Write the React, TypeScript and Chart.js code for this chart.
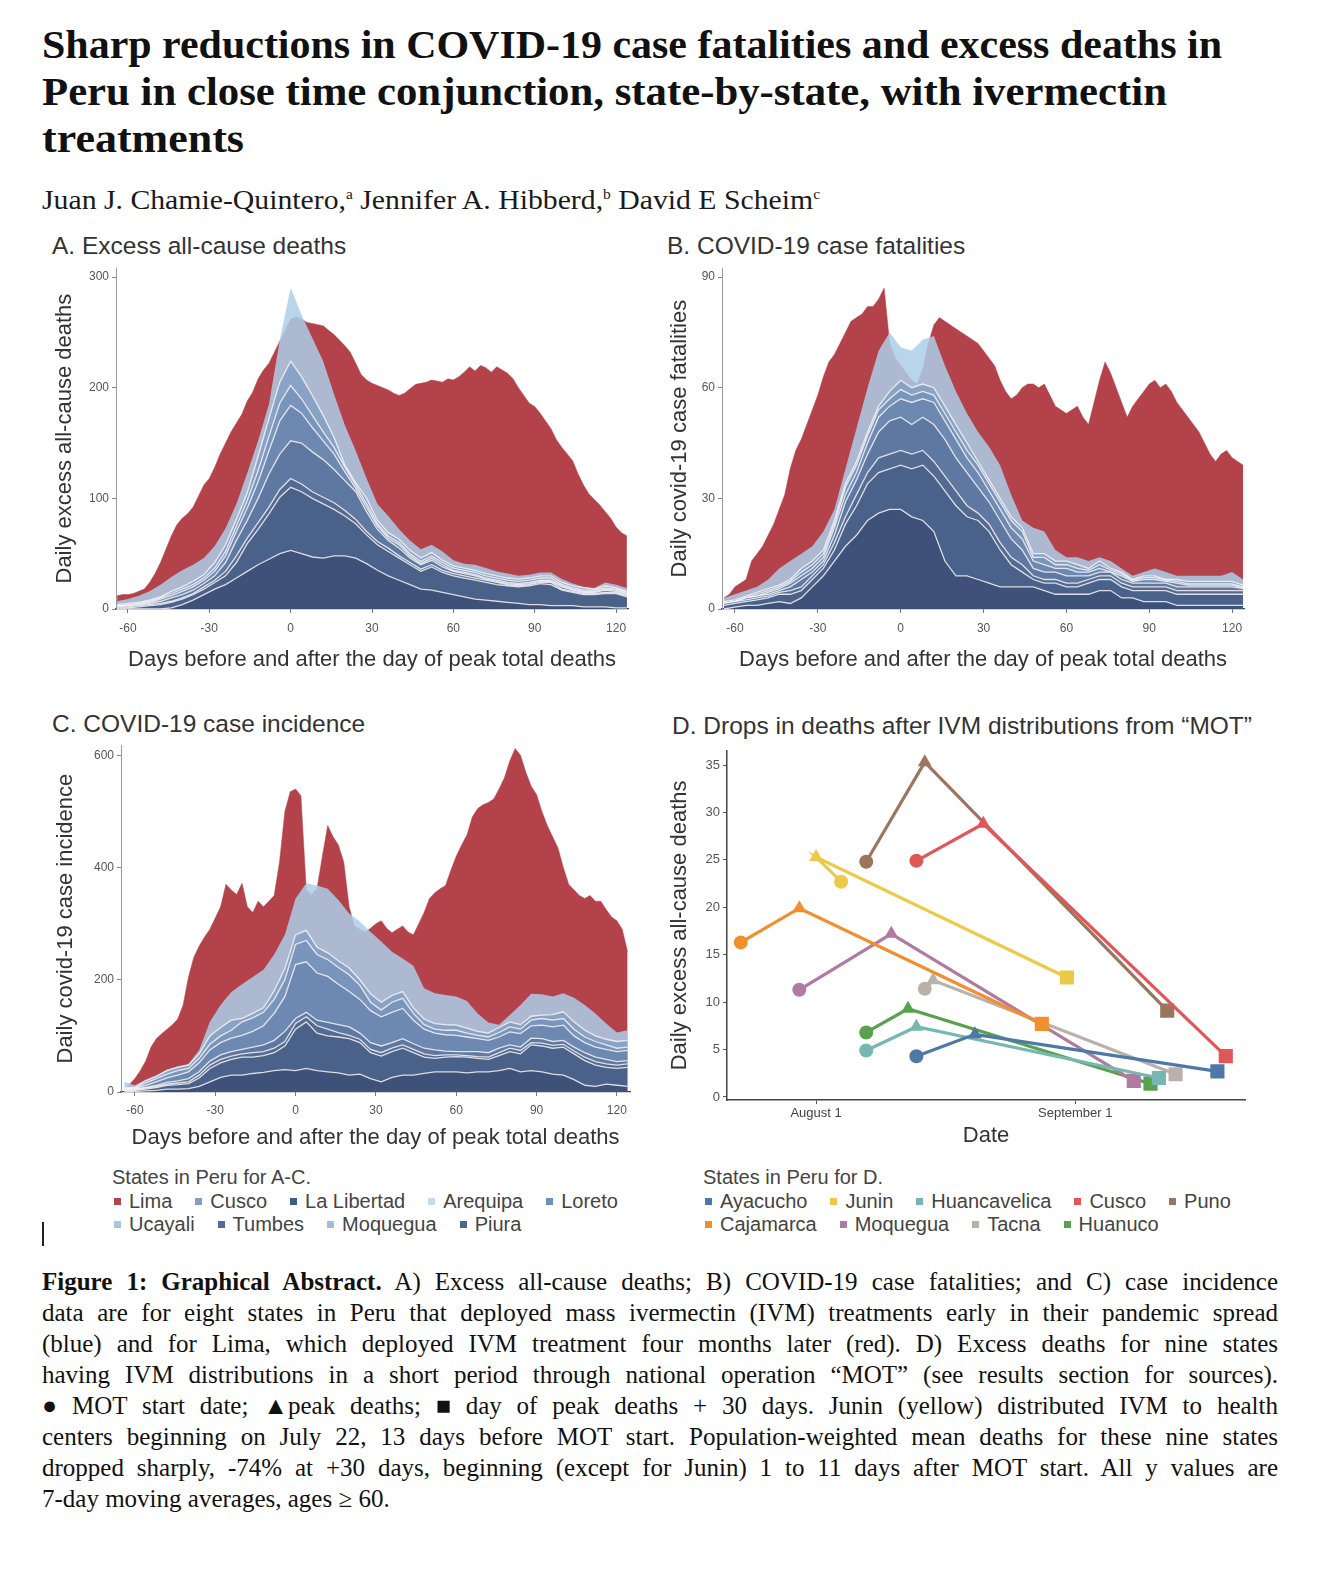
import React, { useEffect, useLayoutEffect, useRef } from 'react';
import { Chart, registerables } from 'chart.js';

Chart.register(...registerables);

const SANS = '"Liberation Sans", Arial, Helvetica, sans-serif';
const SERIF = '"Liberation Serif", "Times New Roman", serif';

// ---------- Panels A-C: shared categories ----------
const blueDays = [-64, -60, -56, -52, -48, -44, -40, -36, -32, -28, -24, -20, -16, -12, -8, -4, 0, 4, 8, 12, 16, 20, 24, 28, 32, 36, 40, 44, 48, 52, 56, 60, 64, 68, 72, 76, 80, 84, 88, 92, 96, 100, 104, 108, 112, 116, 120, 124];
const limaDays = [-64, -62, -60, -58, -56, -54, -52, -50, -48, -46, -44, -42, -40, -38, -36, -34, -32, -30, -28, -26, -24, -22, -20, -18, -16, -14, -12, -10, -8, -6, -4, -2, 0, 2, 4, 6, 8, 10, 12, 14, 16, 18, 20, 22, 24, 26, 28, 30, 32, 34, 36, 38, 40, 42, 44, 46, 48, 50, 52, 54, 56, 58, 60, 62, 64, 66, 68, 70, 72, 74, 76, 78, 80, 82, 84, 86, 88, 90, 92, 94, 96, 98, 100, 102, 104, 106, 108, 110, 112, 114, 116, 118, 120, 122, 124];
const dayTicks = [-60, -30, 0, 30, 60, 90, 120];

const statesAC = ['Lima', 'Cusco', 'La Libertad', 'Arequipa', 'Loreto', 'Ucayali', 'Tumbes', 'Moquegua', 'Piura'];
const stackOrderAC = ['La Libertad', 'Piura', 'Tumbes', 'Loreto', 'Cusco', 'Moquegua', 'Ucayali', 'Arequipa'];

// ---------- A. Excess all-cause deaths ----------
const aLima = [12, 13, 13, 14, 16, 18, 24, 32, 42, 54, 66, 76, 82, 86, 92, 102, 112, 118, 128, 140, 150, 160, 168, 176, 188, 196, 208, 216, 222, 232, 242, 252, 262, 264, 262, 259, 258, 257, 256, 252, 248, 243, 238, 232, 222, 212, 207, 204, 202, 200, 198, 195, 193, 195, 199, 203, 204, 205, 207, 206, 205, 208, 207, 210, 214, 219, 215, 220, 218, 214, 219, 216, 213, 208, 200, 193, 186, 183, 177, 170, 163, 153, 146, 140, 134, 122, 112, 104, 99, 94, 88, 82, 74, 69, 66];
const aLaLibertad = [0, 0, 0, 0, 0, 1, 4, 8, 13, 18, 22, 28, 34, 40, 45, 50, 53, 50, 47, 46, 48, 48, 46, 41, 35, 30, 26, 22, 18, 17, 15, 13, 11, 9, 8, 7, 6, 5, 4, 4, 3, 3, 3, 2, 2, 2, 1, 1];
const aPiura = [1, 1, 2, 3, 4, 5, 5, 5, 5, 6, 8, 14, 25, 32, 41, 51, 57, 56, 53, 49, 42, 36, 31, 26, 23, 22, 20, 18, 16, 21, 18, 17, 17, 17, 16, 15, 15, 15, 17, 19, 19, 14, 12, 11, 11, 12, 13, 10];
const aTumbes = [1, 1, 1, 1, 1, 1, 1, 1, 2, 2, 4, 6, 5, 6, 6, 7, 8, 7, 6, 6, 6, 5, 4, 3, 3, 3, 2, 2, 2, 2, 2, 2, 2, 2, 2, 2, 1, 1, 1, 1, 2, 1, 1, 1, 1, 1, 1, 1];
const aLoreto = [0, 1, 1, 1, 2, 3, 3, 3, 3, 4, 8, 14, 16, 22, 30, 32, 34, 37, 36, 34, 30, 27, 25, 18, 11, 7, 7, 4, 4, 4, 3, 2, 2, 2, 1, 1, 1, 1, 1, 1, 1, 2, 1, 1, 1, 2, 1, 1];
const aCusco = [1, 0, 0, 1, 2, 2, 3, 3, 3, 4, 6, 8, 11, 15, 21, 30, 32, 27, 22, 17, 14, 8, 3, 4, 3, 2, 3, 2, 1, 2, 2, 1, 1, 1, 1, 1, 1, 1, 1, 1, 1, 1, 1, 1, 1, 1, 1, 1];
const aMoquegua = [0, 1, 1, 1, 1, 2, 2, 2, 2, 3, 4, 5, 7, 10, 13, 16, 18, 13, 11, 8, 6, 4, 3, 3, 2, 2, 2, 2, 2, 2, 2, 2, 2, 2, 2, 2, 2, 2, 2, 2, 2, 1, 1, 1, 1, 1, 1, 1];
const aUcayali = [1, 1, 1, 1, 1, 2, 2, 3, 3, 5, 6, 6, 7, 13, 16, 19, 22, 20, 18, 15, 9, 2, 2, 5, 3, 3, 3, 3, 3, 3, 2, 2, 2, 2, 2, 2, 2, 2, 2, 2, 2, 2, 2, 2, 1, 2, 1, 1];
const aArequipa = [3, 4, 6, 8, 11, 13, 15, 15, 15, 15, 15, 14, 18, 14, 13, 38, 66, 56, 52, 49, 39, 36, 29, 18, 15, 15, 9, 9, 8, 7, 8, 5, 4, 5, 5, 4, 4, 3, 3, 3, 3, 3, 2, 1, 1, 3, 3, 3];

// ---------- B. COVID-19 case fatalities ----------
const bLima = [3, 4, 6, 7, 8, 13, 15, 17, 20, 23, 27, 31, 38, 43, 46, 50, 54, 58, 63, 67, 69, 72, 75, 78, 79, 80, 82, 82, 84, 87, 72, 68, 66, 64, 62, 61, 65, 72, 77, 79, 78, 77, 76, 75, 74, 73, 72, 70, 68, 66, 62, 59, 57, 58, 60, 61, 61, 60, 61, 58, 55, 54, 53, 54, 55, 52, 50, 56, 62, 67, 64, 60, 56, 52, 55, 57, 59, 61, 62, 60, 61, 59, 56, 54, 52, 50, 48, 45, 42, 40, 42, 43, 41, 40, 39];
const bLaLibertad = [0, 0.5, 1, 1, 1.5, 2, 1.5, 3, 6, 9, 13, 17, 20, 24, 26, 27, 27, 25, 24, 21, 13, 9, 9, 8, 7, 6, 6, 6, 6, 5, 4, 4, 4, 4, 5, 5, 3, 3, 2, 2, 2, 1, 1, 1, 1, 1, 1, 1];
const bPiura = [1, 1, 1, 1.5, 1.5, 2, 2.5, 2, 2, 2, 3, 6, 8, 10, 11, 11, 12, 13, 15, 15, 19, 19, 16, 16, 14, 10, 6, 4, 2, 2, 3, 2, 2, 3, 3, 3, 3, 2, 3, 3, 3, 3, 3, 3, 3, 3, 3, 3];
const bTumbes = [0.5, 0.5, 0.5, 0.5, 0.5, 0.5, 1, 1, 1, 1, 2, 2, 3, 3, 4, 4, 4, 4, 4, 4, 4, 4, 3, 2, 2, 2, 2, 2, 1, 1, 1, 1, 1, 1, 1, 1, 1, 1, 1, 1, 1, 1, 1, 1, 1, 1, 1, 1];
const bLoreto = [0, 0, 0.5, 0.5, 0.5, 0.5, 1, 2, 1, 1, 2, 4, 4, 5, 7, 9, 9, 8, 9, 10, 10, 9, 9, 7, 6, 6, 5, 4, 2, 2, 2, 2, 2, 1, 1, 1, 1, 1, 1, 1, 1, 1, 1, 1, 1, 1, 1, 0.5];
const bCusco = [0, 0, 0, 0, 0.5, 0.5, 1, 1, 1, 1, 2, 2, 2, 3, 4, 4, 5, 6, 5, 6, 5, 5, 4, 4, 3, 3, 3, 3, 2, 2, 1, 2, 1, 1, 1, 0, 1, 0.5, 1, 1, 0.5, 1, 0.5, 0.5, 0.5, 0.5, 0.5, 0.3];
const bMoquegua = [0, 0, 0, 0.5, 0.5, 0.5, 0.5, 1, 1, 1, 1, 2, 2, 2, 2, 2, 2.5, 2, 2, 2, 2, 2, 2, 2, 2, 2, 2, 2, 1, 2, 1, 1, 1, 0.5, 1, 0.5, 0.5, 0.3, 0.5, 0.5, 0.3, 0.5, 0.3, 0.3, 0.3, 0.3, 0.3, 0.2];
const bUcayali = [0.5, 0.5, 0.5, 0.5, 0.5, 0.5, 0.5, 1, 1, 1, 1, 1, 1, 1, 1, 2, 2.5, 2, 2, 2, 2, 2, 2, 1, 1, 1, 1, 1, 1, 1, 1, 1, 1, 0.5, 1, 0.5, 0.5, 0.2, 0.5, 0.5, 0.2, 0.5, 0.7, 0.7, 0.7, 0.7, 0.7, 0.5];
const bArequipa = [1, 1.5, 1.5, 1.5, 2.5, 4.5, 5, 4, 4, 5, 3, 4, 9, 12, 15, 16, 9, 10, 12, 14, 11, 9, 8, 8, 9, 9, 6, 2, 7, 6, 3, 1, 2, 2, 1, 2, 1, 1, 1, 2, 2, 1, 1.5, 1.5, 1.5, 1.5, 2.5, 1.5];

// ---------- C. COVID-19 case incidence ----------
const cLima = [8, 14, 24, 38, 55, 80, 95, 104, 112, 120, 130, 155, 205, 240, 260, 276, 290, 310, 330, 370, 360, 352, 372, 330, 320, 340, 330, 340, 350, 410, 500, 535, 540, 528, 360, 352, 362, 420, 475, 455, 440, 410, 330, 295, 290, 285, 292, 300, 305, 292, 284, 290, 296, 285, 280, 300, 320, 345, 355, 362, 368, 395, 420, 440, 458, 490, 505, 512, 516, 522, 540, 560, 590, 612, 600, 570, 545, 530, 500, 475, 455, 435, 400, 370, 360, 350, 345, 350, 340, 340, 325, 312, 305, 290, 250];
const cLaLibertad = [0, 1, 2, 3, 5, 5, 6, 10, 18, 26, 30, 30, 33, 35, 38, 40, 38, 42, 38, 36, 34, 30, 32, 24, 18, 26, 30, 30, 33, 36, 36, 36, 34, 36, 36, 38, 42, 36, 38, 36, 32, 30, 22, 12, 10, 14, 12, 10];
const cPiura = [2, 2, 3, 5, 7, 8, 9, 15, 24, 26, 28, 32, 29, 30, 32, 42, 74, 83, 67, 64, 64, 65, 56, 46, 46, 46, 48, 40, 29, 24, 26, 27, 28, 24, 22, 27, 30, 32, 46, 46, 46, 50, 46, 44, 38, 30, 30, 34];
const cTumbes = [1, 1, 2, 2, 2, 3, 3, 5, 6, 6, 6, 6, 8, 7, 8, 8, 10, 9, 13, 12, 8, 6, 6, 6, 6, 6, 6, 6, 6, 5, 4, 3, 3, 3, 4, 5, 6, 6, 4, 5, 5, 5, 5, 6, 6, 6, 6, 6];
const cLoreto = [1, 1, 1, 2, 3, 4, 6, 6, 7, 8, 8, 8, 10, 12, 14, 18, 9, 8, 10, 12, 14, 15, 11, 12, 12, 10, 11, 10, 10, 10, 7, 6, 7, 9, 8, 8, 6, 6, 8, 8, 7, 7, 7, 8, 8, 8, 6, 6];
const cCusco = [1, 1, 4, 6, 8, 10, 12, 16, 20, 22, 24, 25, 28, 34, 48, 62, 96, 90, 84, 82, 72, 63, 60, 57, 52, 54, 54, 42, 34, 30, 29, 29, 26, 23, 22, 20, 23, 24, 22, 24, 26, 27, 20, 18, 18, 18, 18, 18];
const cMoquegua = [1, 1, 4, 6, 7, 8, 6, 8, 10, 12, 14, 24, 24, 24, 25, 30, 36, 38, 33, 30, 30, 30, 25, 15, 12, 18, 18, 12, 8, 7, 8, 9, 7, 6, 6, 8, 9, 8, 10, 12, 12, 12, 12, 10, 10, 8, 6, 6];
const cUcayali = [2, 1, 4, 4, 6, 6, 6, 8, 15, 15, 18, 6, 8, 8, 15, 20, 17, 18, 13, 12, 12, 12, 10, 15, 14, 12, 12, 10, 10, 10, 10, 9, 9, 7, 7, 9, 9, 8, 7, 6, 10, 12, 13, 12, 10, 10, 12, 12];
const cArequipa = [10, 4, 2, 2, 2, 2, 2, 7, 25, 40, 50, 61, 65, 68, 65, 60, 65, 84, 110, 114, 108, 97, 104, 110, 108, 78, 59, 75, 55, 54, 53, 51, 48, 32, 19, 5, 12, 35, 40, 37, 32, 33, 43, 45, 40, 28, 16, 18];

// ---------- D. Drops in deaths after IVM distributions ----------
// x = days since July 1 (August 1 = 31, September 1 = 62)
const statesD = ['Ayacucho', 'Junin', 'Huancavelica', 'Cusco', 'Puno', 'Cajamarca', 'Moquegua', 'Tacna', 'Huanuco'];
const motDay = [43, 34, 37, 43, 37, 22, 29, 44, 37];
const motDeaths = [4.3, 22.7, 4.9, 24.9, 24.8, 16.3, 11.3, 11.4, 6.8];
const peakDay = [50, 31, 43, 51, 44, 29, 40, 45, 42];
const peakDeaths = [6.6, 25.3, 7.4, 28.8, 35.3, 19.9, 17.2, 12.3, 9.3];
const plus30Day = [79, 61, 72, 80, 73, 58, 69, 74, 71];
const plus30Deaths = [2.7, 12.6, 2.0, 4.3, 9.1, 7.7, 1.7, 2.4, 1.4];
const dXTickDays = [31, 62];
const dXTickLabels = ['August 1', 'September 1'];
const dYTicks = [0, 5, 10, 15, 20, 25, 30, 35];

// ---------- styles ----------
const limaFill = '#b3424b';
const areaColors = ['#3e5178', '#4a6189', '#536a91', '#5e78a2', '#6d88b1', '#7a95bc', '#89a3c7', 'rgba(172,206,233,0.85)'];
const legendColorsAC = ['#b5444b', '#7f9fca', '#3f5a8c', '#c4daee', '#6e8ebf', '#a8c6e3', '#4e6ca0', '#9fbde0', '#4b6598'];
const colorsD = ['#4e79a7', '#edc948', '#76b7b2', '#e15759', '#9c755f', '#f28e2b', '#b07aa1', '#bab0ac', '#59a14f'];
const markerStyles = ['circle', 'triangle', 'rect'];
const markerRadii = [7, 8, 10];
const AXIS_TITLE = 22;

function areaConfig(p: any): any {
  const datasets: any[] = p.layers.map((vals: number[], i: number) => {
    const top = i === p.layers.length - 1;
    return {
      label: stackOrderAC[i],
      data: blueDays.map((d, j) => ({ x: d, y: vals[j] })),
      stack: 'ivm',
      fill: i === 0 ? 'origin' : '-1',
      backgroundColor: areaColors[i],
      borderColor: top ? 'rgba(0,0,0,0)' : 'rgba(255,255,255,0.8)',
      borderWidth: top ? 1 : 1.3,
      pointRadius: 0,
      tension: 0,
    };
  });
  datasets.push({
    label: 'Lima',
    data: limaDays.map((d, j) => ({ x: d, y: p.lima[j] })),
    stack: 'lima',
    fill: 'origin',
    backgroundColor: limaFill,
    borderColor: limaFill,
    borderWidth: 0.5,
    pointRadius: 0,
    tension: 0,
  });
  return {
    type: 'line',
    data: { datasets },
    options: {
      animation: false,
      responsive: false,
      events: [],
      layout: { padding: p.pad },
      plugins: { legend: { display: false }, tooltip: { enabled: false } },
      scales: {
        x: {
          type: 'linear',
          min: p.xMin,
          max: p.xMax,
          afterBuildTicks: (s: any) => { s.ticks = dayTicks.map((v) => ({ value: v })); },
          afterFit: (s: any) => { s.height = p.xHeight; },
          ticks: { autoSkip: false, maxRotation: 0, padding: p.xTickPad, color: '#555', font: { family: SANS, size: 12 } },
          grid: { display: true, drawOnChartArea: false, drawTicks: true, tickLength: 4, color: '#777' },
          border: { display: true, color: '#444', width: 1.2 },
          title: { display: true, text: 'Days before and after the day of peak total deaths', color: '#333', font: { family: SANS, size: AXIS_TITLE }, padding: 0 },
        },
        y: {
          stacked: true,
          min: 0,
          max: p.yMax,
          afterBuildTicks: (s: any) => { s.ticks = p.yTicks.map((v: number) => ({ value: v })); },
          afterFit: (s: any) => { s.width = p.yWidth; },
          ticks: { padding: 3, color: '#555', font: { family: SANS, size: 12 } },
          grid: { display: true, drawOnChartArea: false, drawTicks: true, tickLength: 4, color: '#888' },
          border: { display: true, color: '#999', width: 1 },
          title: { display: true, text: p.yTitle, color: '#333', font: { family: SANS, size: AXIS_TITLE }, padding: 0 },
        },
      },
    },
  };
}

function dConfig(): any {
  return {
    type: 'line',
    data: {
      datasets: statesD.map((s, i) => ({
        label: s,
        data: [
          { x: motDay[i], y: motDeaths[i] },
          { x: peakDay[i], y: peakDeaths[i] },
          { x: plus30Day[i], y: plus30Deaths[i] },
        ],
        borderColor: colorsD[i],
        backgroundColor: colorsD[i],
        pointBackgroundColor: colorsD[i],
        pointBorderColor: colorsD[i],
        pointBorderWidth: 0,
        borderWidth: 3.2,
        pointStyle: markerStyles,
        pointRadius: markerRadii,
        tension: 0,
        fill: false,
      })),
    },
    options: {
      animation: false,
      responsive: false,
      events: [],
      layout: { padding: { left: 17, right: 15, top: 10, bottom: 11 } },
      plugins: { legend: { display: false }, tooltip: { enabled: false } },
      scales: {
        x: {
          type: 'linear',
          min: 20.35,
          max: 82.3,
          afterBuildTicks: (s: any) => { s.ticks = dXTickDays.map((v) => ({ value: v })); },
          afterFit: (s: any) => { s.height = 49; },
          ticks: {
            autoSkip: false, maxRotation: 0, padding: 2, color: '#444', font: { family: SANS, size: 13 },
            callback: (v: any) => dXTickLabels[dXTickDays.indexOf(Number(v))] ?? '',
          },
          grid: { display: true, drawOnChartArea: false, drawTicks: true, tickLength: 4, color: '#555' },
          border: { display: true, color: '#444', width: 1.5 },
          title: { display: true, text: 'Date', color: '#333', font: { family: SANS, size: AXIS_TITLE }, padding: 0 },
        },
        y: {
          min: -0.32,
          max: 36.5,
          afterBuildTicks: (s: any) => { s.ticks = dYTicks.map((v) => ({ value: v })); },
          afterFit: (s: any) => { s.width = 60; },
          ticks: { padding: 3, color: '#555', font: { family: SANS, size: 13 } },
          grid: { display: true, drawOnChartArea: false, drawTicks: true, tickLength: 4, color: '#555' },
          border: { display: true, color: '#444', width: 1.5 },
          title: { display: true, text: 'Daily excess all-cause deaths', color: '#333', font: { family: SANS, size: AXIS_TITLE }, padding: 0 },
        },
      },
    },
  };
}

const abs = (left: number, top: number, extra: any = {}): any => ({ position: 'absolute', left, top, ...extra });

function Legend({ title, names, colors, left, top }: any) {
  const rows = [names.slice(0, 5), names.slice(5)];
  const colorRows = [colors.slice(0, 5), colors.slice(5)];
  return (
    <div style={abs(left, top, { fontFamily: SANS, fontSize: 20, color: '#444', whiteSpace: 'nowrap' })}>
      <div style={{ height: 26, lineHeight: '26px' }}>{title}</div>
      {rows.map((row: string[], r: number) => (
        <div key={r} style={{ height: 23, lineHeight: '23px', display: 'flex', alignItems: 'center', paddingLeft: 2 }}>
          {row.map((n, i) => (
            <span key={n} style={{ display: 'inline-flex', alignItems: 'center', marginRight: 23 }}>
              <span style={{ display: 'inline-block', width: 7, height: 7, background: colorRows[r][i], marginRight: 8 }} />
              <span>{n}</span>
            </span>
          ))}
        </div>
      ))}
    </div>
  );
}

const captionLines = [
  'data are for eight states in Peru that deployed mass ivermectin (IVM) treatments early in their pandemic spread',
  '(blue) and for Lima, which deployed IVM treatment four months later (red). D) Excess deaths for nine states',
  'having IVM distributions in a short period through national operation “MOT” (see results section for sources).',
  '● MOT start date; ▲peak deaths; ■ day of peak deaths + 30 days. Junin (yellow) distributed IVM to health',
  'centers beginning on July 22, 13 days before MOT start. Population-weighted mean deaths for these nine states',
  'dropped sharply, -74% at +30 days, beginning (except for Junin) 1 to 11 days after MOT start. All y values are',
];

export default function App() {
  const refA = useRef<HTMLCanvasElement>(null);
  const refB = useRef<HTMLCanvasElement>(null);
  const refC = useRef<HTMLCanvasElement>(null);
  const refD = useRef<HTMLCanvasElement>(null);

  useEffect(() => {
    const charts = [
      new Chart(refA.current as any, areaConfig({
        layers: [aLaLibertad, aPiura, aTumbes, aLoreto, aCusco, aMoquegua, aUcayali, aArequipa],
        lima: aLima, yMax: 308, yTicks: [0, 100, 200, 300], yTitle: 'Daily excess all-cause deaths',
        xMin: -64.4, xMax: 124.4, pad: { left: 12, right: 12, top: 10, bottom: 5 }, yWidth: 64, xHeight: 64, xTickPad: 8,
      })),
      new Chart(refB.current as any, areaConfig({
        layers: [bLaLibertad, bPiura, bTumbes, bLoreto, bCusco, bMoquegua, bUcayali, bArequipa],
        lima: bLima, yMax: 92.4, yTicks: [0, 30, 60, 90], yTitle: 'Daily covid-19 case fatalities',
        xMin: -64.7, xMax: 124.3, pad: { left: 17, right: 16, top: 10, bottom: 5 }, yWidth: 55, xHeight: 64, xTickPad: 8,
      })),
      new Chart(refC.current as any, areaConfig({
        layers: [cLaLibertad, cPiura, cTumbes, cLoreto, cCusco, cMoquegua, cUcayali, cArequipa],
        lima: cLima, yMax: 618, yTicks: [0, 200, 400, 600], yTitle: 'Daily covid-19 case incidence',
        xMin: -65.2, xMax: 124.9, pad: { left: 13, right: 10, top: 10, bottom: 4 }, yWidth: 68, xHeight: 59, xTickPad: 7,
      })),
      new Chart(refD.current as any, dConfig()),
    ];
    return () => charts.forEach((c) => c.destroy());
  }, []);

  useLayoutEffect(() => {
    const fit = () => {
      document.querySelectorAll<HTMLElement>('[data-fit]').forEach((el) => {
        const target = parseFloat(el.dataset.w || '0');
        el.style.wordSpacing = '0px';
        el.style.transform = 'none';
        const w = el.getBoundingClientRect().width;
        if (!w) return;
        if (el.dataset.fit === 'justify') {
          const n = ((el.textContent || '').match(/ /g) || []).length;
          const ws = n ? (target - w) / n : 0;
          if (ws >= -1.5) {
            el.style.wordSpacing = ws + 'px';
            return;
          }
        }
        el.style.transform = `scaleX(${target / w})`;
      });
    };
    fit();
    const fonts: any = (document as any).fonts;
    if (fonts && fonts.ready) fonts.ready.then(fit);
  }, []);

  const fitSpan = (mode: string, w: number): any => ({
    'data-fit': mode,
    'data-w': String(w),
    style: { display: 'inline-block', whiteSpace: 'nowrap', transformOrigin: 'left center' },
  });

  const panelTitle = { fontFamily: SANS, fontSize: 24.5, lineHeight: '28px', color: '#333', whiteSpace: 'nowrap' };

  return (
    <div style={{ position: 'absolute', left: 0, top: 0, width: 1326, height: 1584, background: '#fff', overflow: 'hidden' }}>
      {/* Title */}
      <div style={abs(42, 21, { fontFamily: SERIF, fontWeight: 700, fontSize: 39, lineHeight: '47px', color: '#111' })}>
        <div><span {...fitSpan('scale', 1180)}>Sharp reductions in COVID-19 case fatalities and excess deaths in</span></div>
        <div><span {...fitSpan('scale', 1125)}>Peru in close time conjunction, state-by-state, with ivermectin</span></div>
        <div><span {...fitSpan('scale', 202)}>treatments</span></div>
      </div>
      {/* Authors */}
      <div style={abs(42, 179, { fontFamily: SERIF, fontSize: 27, lineHeight: '32px', color: '#1a1a1a' })}>
        <span {...fitSpan('scale', 778)}>
          Juan J. Chamie-Quintero,<sup style={{ fontSize: 14 }}>a</sup> Jennifer A. Hibberd,<sup style={{ fontSize: 14 }}>b</sup> David E Scheim<sup style={{ fontSize: 14 }}>c</sup>
        </span>
      </div>

      {/* Panel titles */}
      <div style={abs(52, 232, panelTitle)}>A. Excess all-cause deaths</div>
      <div style={abs(667, 232, panelTitle)}>B. COVID-19 case fatalities</div>
      <div style={abs(52, 710, panelTitle)}>C. COVID-19 case incidence</div>
      <div style={abs(672, 712, panelTitle)}>D. Drops in deaths after IVM distributions from “MOT”</div>

      {/* Charts */}
      <canvas ref={refA} width={600} height={420} style={abs(40, 258, { width: 600, height: 420 })} />
      <canvas ref={refB} width={610} height={420} style={abs(650, 258, { width: 610, height: 420 })} />
      <canvas ref={refC} width={600} height={420} style={abs(40, 735, { width: 600, height: 420 })} />
      <canvas ref={refD} width={610} height={420} style={abs(650, 740, { width: 610, height: 420 })} />

      {/* Legends */}
      <Legend title="States in Peru for A-C." names={statesAC} colors={legendColorsAC} left={112} top={1164} />
      <Legend title="States in Peru for D." names={statesD} colors={colorsD} left={703} top={1164} />

      <div style={abs(42, 1222, { width: 2, height: 24, background: '#222' })} />

      {/* Caption */}
      <div style={abs(42, 1265.5, { fontFamily: SERIF, fontSize: 25, lineHeight: '31px', color: '#111' })}>
        <div>
          <span {...fitSpan('justify', 1236)}>
            <b>Figure 1: Graphical Abstract.</b> A) Excess all-cause deaths; B) COVID-19 case fatalities; and C) case incidence
          </span>
        </div>
        {captionLines.map((t) => (
          <div key={t}><span {...fitSpan('justify', 1236)}>{t}</span></div>
        ))}
        <div style={{ whiteSpace: 'nowrap' }}>7-day moving averages, ages ≥ 60.</div>
      </div>
    </div>
  );
}
